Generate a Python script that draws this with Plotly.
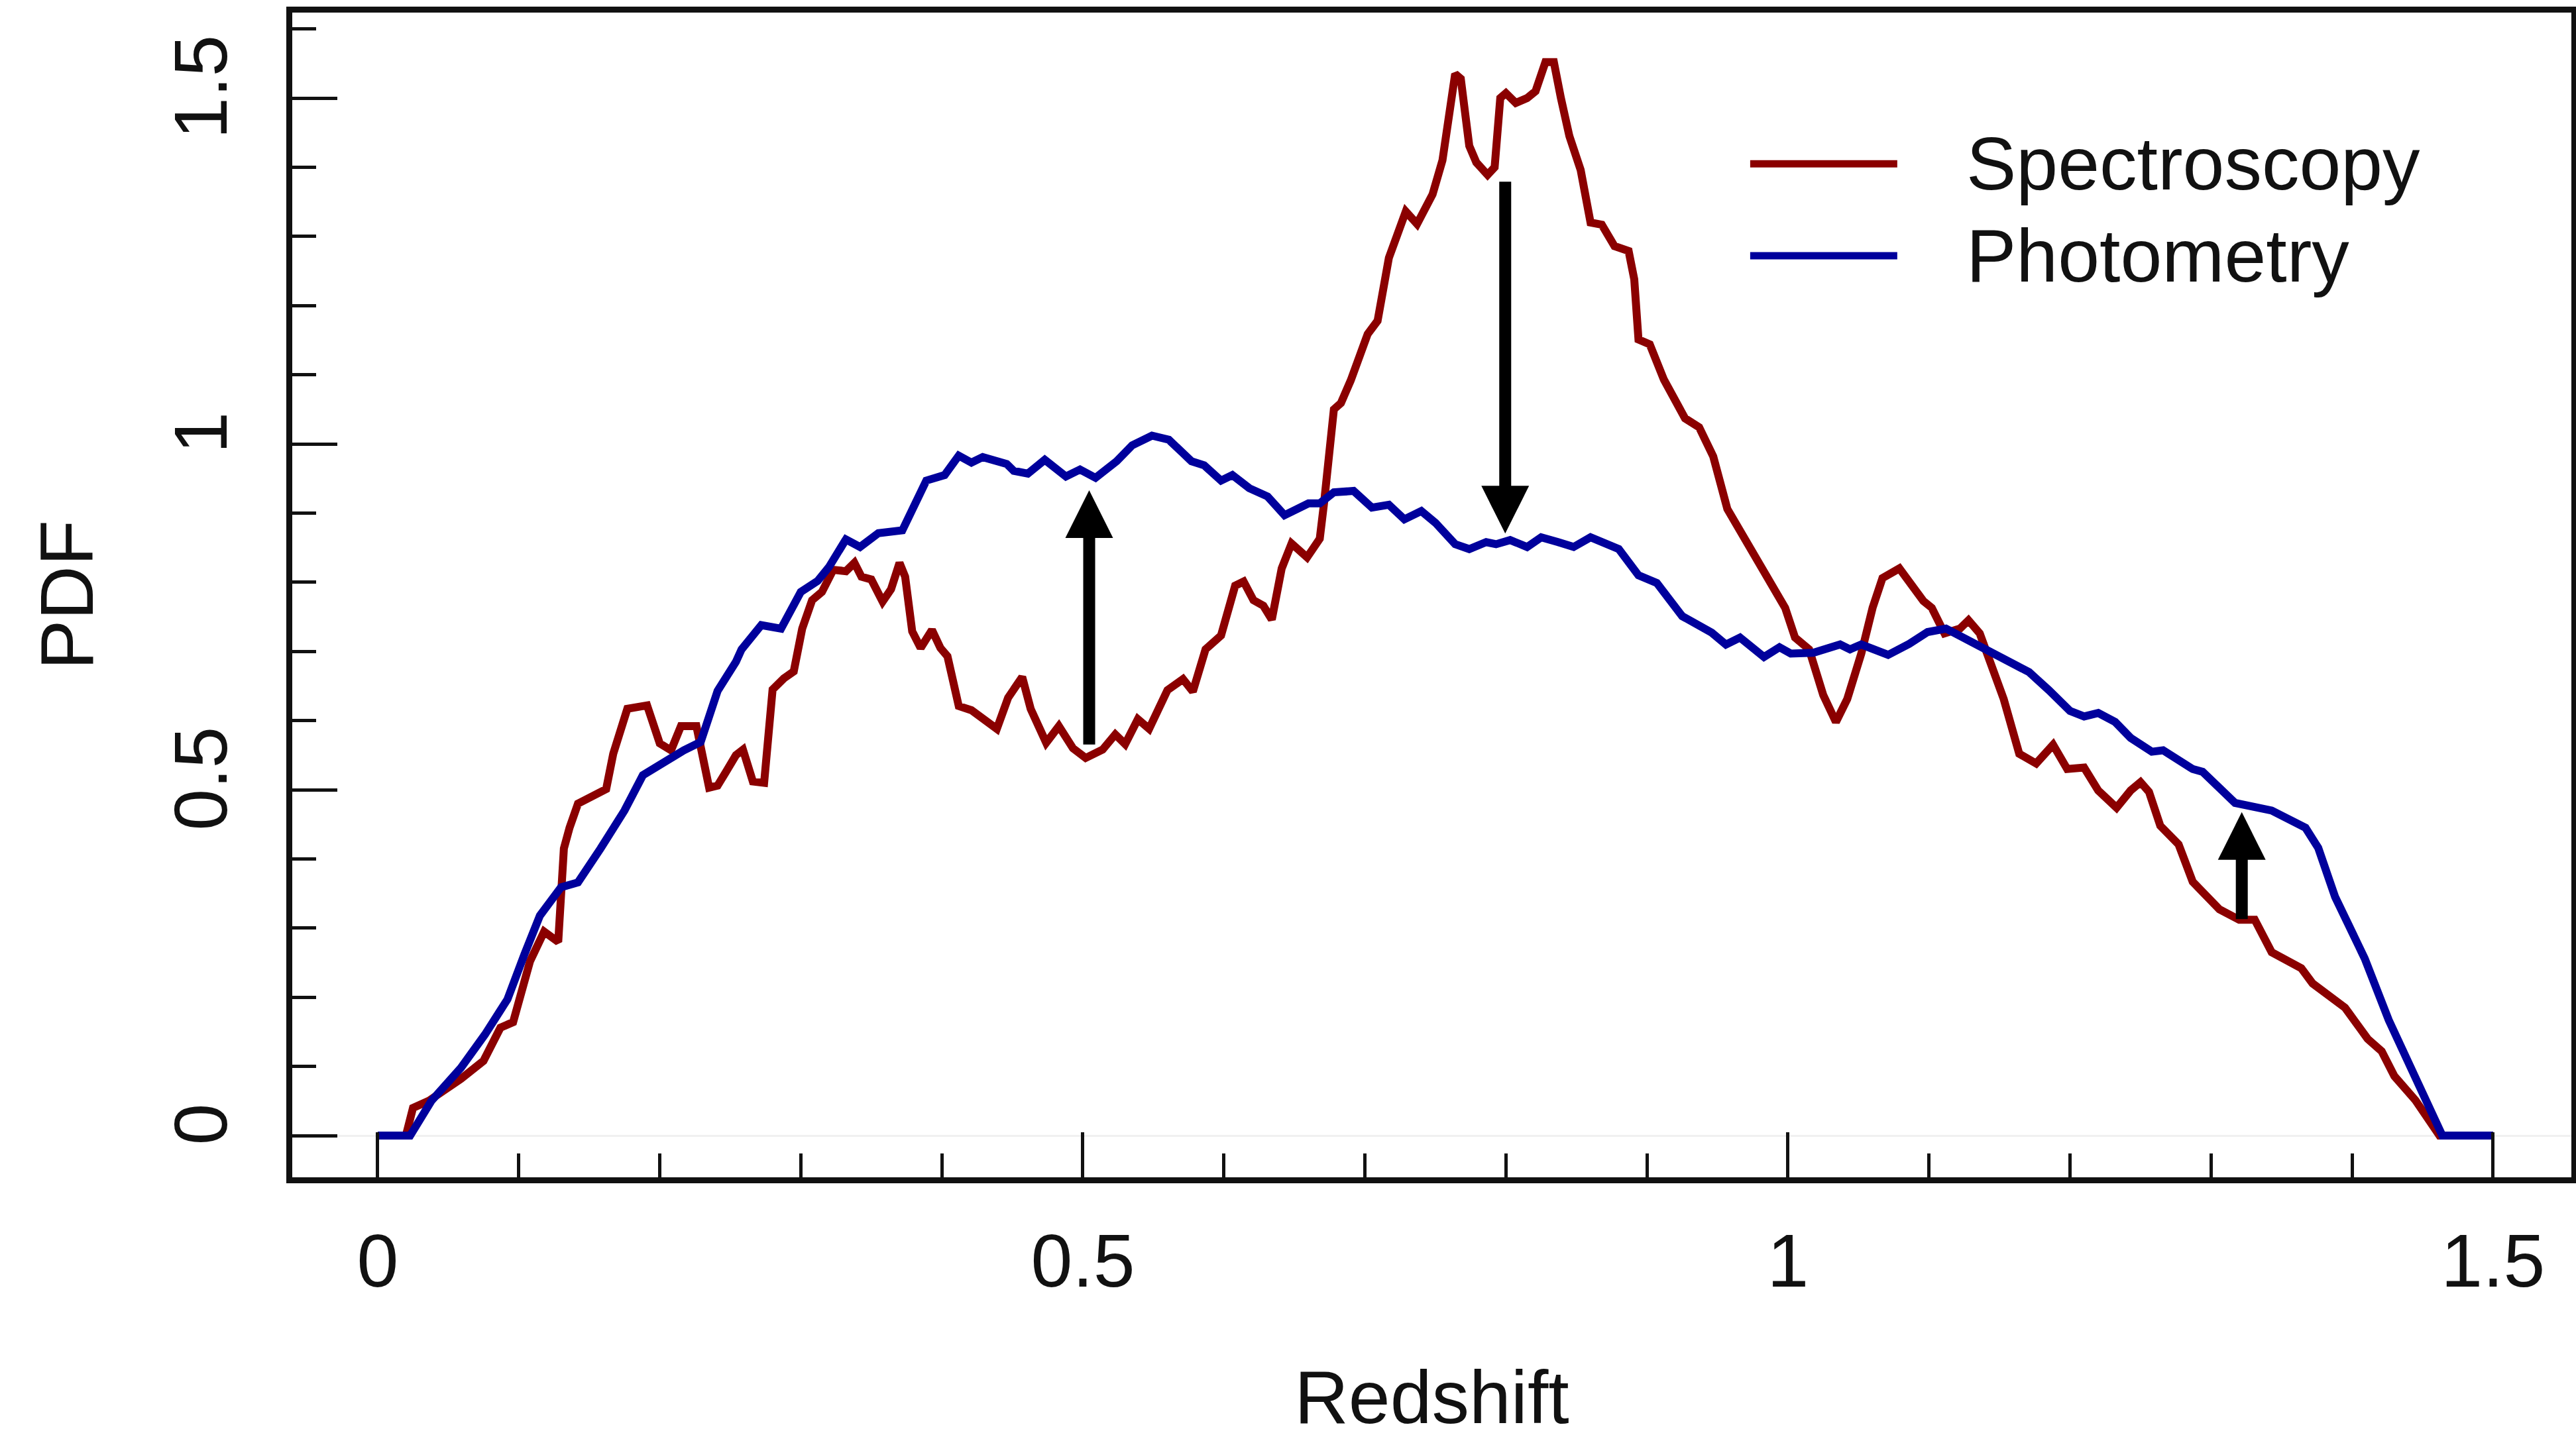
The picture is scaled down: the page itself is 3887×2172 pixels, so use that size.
import plotly.graph_objects as go

# ---------------- data ----------------
z_spec = [0.000, 0.020, 0.025, 0.036, 0.059, 0.075, 0.087, 0.096, 0.108, 0.118,
          0.128, 0.132, 0.136, 0.142, 0.162, 0.167, 0.177, 0.191, 0.200, 0.208,
          0.215, 0.226, 0.235, 0.241, 0.247, 0.254, 0.259, 0.266, 0.274, 0.280,
          0.288, 0.295, 0.301, 0.308, 0.315, 0.323, 0.332, 0.338, 0.343, 0.350,
          0.358, 0.364, 0.370, 0.374, 0.379, 0.385, 0.393, 0.399, 0.404, 0.412,
          0.421, 0.429, 0.439, 0.447, 0.457, 0.463, 0.474, 0.483, 0.493, 0.502,
          0.514, 0.523, 0.530, 0.539, 0.547, 0.560, 0.571, 0.578, 0.587, 0.598,
          0.608, 0.614, 0.621, 0.628, 0.634, 0.641, 0.648, 0.659, 0.668, 0.671,
          0.675, 0.678, 0.683, 0.690, 0.702, 0.709, 0.717, 0.729, 0.737, 0.748,
          0.755, 0.759, 0.764, 0.768, 0.774, 0.779, 0.787, 0.792, 0.796, 0.800,
          0.807, 0.815, 0.821, 0.828, 0.834, 0.839, 0.845, 0.853, 0.860, 0.868,
          0.877, 0.887, 0.891, 0.894, 0.902, 0.912, 0.927, 0.937, 0.947, 0.957,
          0.971, 0.981, 0.994, 0.998, 1.005, 1.015, 1.025, 1.034, 1.042, 1.052,
          1.060, 1.067, 1.079, 1.087, 1.096, 1.102, 1.111, 1.122, 1.128, 1.136,
          1.143, 1.153, 1.164, 1.176, 1.188, 1.198, 1.210, 1.220, 1.233, 1.243,
          1.250, 1.256, 1.264, 1.277, 1.287, 1.306, 1.320, 1.331, 1.343, 1.364,
          1.372, 1.395, 1.411, 1.421, 1.430, 1.445, 1.462, 1.500]
pdf_spec = [0.000, 0.000, 0.040, 0.050, 0.082, 0.108, 0.156, 0.164, 0.252, 0.295,
            0.280, 0.415, 0.445, 0.480, 0.501, 0.552, 0.617, 0.622, 0.567, 0.557,
            0.592, 0.592, 0.503, 0.506, 0.526, 0.550, 0.558, 0.512, 0.510, 0.645,
            0.661, 0.671, 0.733, 0.774, 0.786, 0.818, 0.816, 0.828, 0.808, 0.804,
            0.772, 0.790, 0.828, 0.808, 0.729, 0.705, 0.731, 0.705, 0.693, 0.621,
            0.615, 0.604, 0.588, 0.633, 0.663, 0.617, 0.568, 0.592, 0.560, 0.546,
            0.558, 0.580, 0.566, 0.602, 0.588, 0.644, 0.660, 0.642, 0.703, 0.723,
            0.795, 0.801, 0.774, 0.766, 0.746, 0.820, 0.856, 0.836, 0.863, 0.914,
            0.989, 1.050, 1.059, 1.092, 1.159, 1.178, 1.269, 1.336, 1.318, 1.361,
            1.410, 1.472, 1.535, 1.528, 1.431, 1.407, 1.389, 1.400, 1.500, 1.507,
            1.493, 1.500, 1.510, 1.552, 1.552, 1.500, 1.445, 1.396, 1.320, 1.317,
            1.286, 1.279, 1.238, 1.151, 1.144, 1.093, 1.037, 1.024, 0.982, 0.906,
            0.858, 0.823, 0.775, 0.763, 0.720, 0.703, 0.637, 0.598, 0.631, 0.697,
            0.763, 0.806, 0.820, 0.799, 0.773, 0.763, 0.726, 0.733, 0.745, 0.726,
            0.690, 0.631, 0.552, 0.538, 0.565, 0.530, 0.532, 0.499, 0.474, 0.499,
            0.511, 0.497, 0.448, 0.421, 0.367, 0.327, 0.312, 0.312, 0.265, 0.242,
            0.220, 0.185, 0.140, 0.122, 0.086, 0.051, 0.000, 0.000]

z_phot = [0.000, 0.023, 0.038, 0.059, 0.076, 0.092, 0.104, 0.115, 0.130, 0.142,
          0.158, 0.175, 0.188, 0.203, 0.217, 0.229, 0.241, 0.254, 0.258, 0.272,
          0.286, 0.300, 0.312, 0.320, 0.332, 0.342, 0.355, 0.372, 0.379, 0.389,
          0.402, 0.412, 0.421, 0.429, 0.446, 0.451, 0.461, 0.473, 0.488, 0.498,
          0.509, 0.524, 0.535, 0.549, 0.561, 0.577, 0.586, 0.598, 0.606, 0.618,
          0.631, 0.643, 0.660, 0.668, 0.678, 0.692, 0.705, 0.717, 0.728, 0.740,
          0.750, 0.764, 0.774, 0.786, 0.793, 0.803, 0.815, 0.825, 0.837, 0.848,
          0.860, 0.870, 0.880, 0.894, 0.907, 0.925, 0.946, 0.956, 0.966, 0.983,
          0.994, 1.002, 1.018, 1.037, 1.044, 1.052, 1.071, 1.086, 1.099, 1.112,
          1.124, 1.139, 1.151, 1.171, 1.185, 1.200, 1.210, 1.220, 1.232, 1.243,
          1.258, 1.266, 1.287, 1.294, 1.317, 1.329, 1.343, 1.367, 1.376, 1.388,
          1.409, 1.426, 1.444, 1.464, 1.500]
pdf_phot = [0.000, 0.000, 0.050, 0.098, 0.146, 0.197, 0.262, 0.318, 0.359, 0.366,
            0.415, 0.470, 0.521, 0.541, 0.557, 0.569, 0.643, 0.685, 0.703, 0.738,
            0.733, 0.786, 0.802, 0.822, 0.862, 0.851, 0.871, 0.875, 0.903, 0.947,
            0.955, 0.983, 0.973, 0.981, 0.971, 0.961, 0.957, 0.977, 0.953, 0.963,
            0.951, 0.975, 0.998, 1.012, 1.006, 0.975, 0.969, 0.947, 0.955, 0.936,
            0.924, 0.897, 0.914, 0.914, 0.930, 0.932, 0.908, 0.912, 0.891, 0.903,
            0.886, 0.855, 0.848, 0.858, 0.855, 0.861, 0.851, 0.865, 0.858, 0.851,
            0.865, 0.855, 0.848, 0.810, 0.799, 0.751, 0.727, 0.710, 0.720, 0.692,
            0.706, 0.697, 0.698, 0.710, 0.703, 0.710, 0.695, 0.711, 0.728, 0.733,
            0.720, 0.705, 0.694, 0.670, 0.644, 0.614, 0.606, 0.611, 0.598, 0.575,
            0.555, 0.557, 0.530, 0.526, 0.481, 0.477, 0.470, 0.445, 0.416, 0.345,
            0.256, 0.167, 0.091, 0.000, 0.000]

series_names = ["Spectroscopy", "Photometry"]
series_colors = ["#8b0000", "#00009c"]

# arrows: x position, tail value, head value
arrow_x = [0.5045, 0.7995, 1.3218]
arrow_from = [0.564, 1.3805, 0.3116]
arrow_to = [0.933, 0.8704, 0.4676]

x_tickvals = [0, 0.5, 1, 1.5]
x_ticktext = ["0", "0.5", "1", "1.5"]
y_tickvals = [0, 0.5, 1, 1.5]
y_ticktext = ["0", "0.5", "1", "1.5"]

# ---------------- figure ----------------
FONT = "Liberation Sans, Arial, Helvetica, sans-serif"
FS = 113
TXT = "#111111"

fig = go.Figure()
for zs, ps, name, col in [(z_spec, pdf_spec, series_names[0], series_colors[0]),
                          (z_phot, pdf_phot, series_names[1], series_colors[1])]:
    fig.add_trace(go.Scatter(x=zs, y=ps, mode="lines", name=name,
                             line=dict(color=col, width=12), showlegend=False))

# arrows
for ax_, a0, a1 in zip(arrow_x, arrow_from, arrow_to):
    fig.add_annotation(x=ax_, y=a1, ax=ax_, ay=a0, xref="x", yref="y",
                       axref="x", ayref="y", text="", showarrow=True,
                       arrowhead=2, arrowsize=0.8, arrowwidth=18,
                       arrowcolor="black", standoff=0)

# manual legend (long line samples)
leg_x0, leg_x1, leg_tx = 0.9732, 1.0775, 1.1255
leg_y = [1.405, 1.272]
for name, col, ly in zip(series_names, series_colors, leg_y):
    fig.add_shape(type="line", xref="x", yref="y", x0=leg_x0, x1=leg_x1,
                  y0=ly, y1=ly, line=dict(color=col, width=11))
    fig.add_annotation(x=leg_tx, y=ly, xref="x", yref="y", text=name,
                       showarrow=False, xanchor="left", yanchor="middle",
                       font=dict(family=FONT, size=FS, color=TXT))

axis_common = dict(
    showline=True, linewidth=9, linecolor="#111111", mirror=True,
    ticks="inside", ticklen=68, tickwidth=5, tickcolor="#111111",
    showgrid=False, automargin=False,
    tickfont=dict(family=FONT, size=FS, color=TXT),
    title_font=dict(family=FONT, size=FS, color=TXT),
)

fig.update_xaxes(
    range=[-0.0606, 1.5555], tickmode="array", tickvals=x_tickvals,
    ticktext=x_ticktext, zeroline=False,
    minor=dict(dtick=0.1, tick0=0, ticks="inside", ticklen=36, tickwidth=5,
               tickcolor="#111111"),
    title_text="Redshift", title_standoff=130, ticklabelstandoff=20,
    **axis_common)
fig.update_yaxes(
    range=[-0.0603, 1.6236], tickmode="array", tickvals=y_tickvals,
    ticktext=y_ticktext, tickangle=-90, zeroline=True,
    zerolinecolor="#f0f0f0", zerolinewidth=3,
    minor=dict(dtick=0.1, tick0=0, ticks="inside", ticklen=36, tickwidth=5,
               tickcolor="#111111"),
    title_text="PDF", title_standoff=65, ticklabelstandoff=45,
    **axis_common)

fig.update_layout(
    template="none", width=3887, height=2172,
    margin=dict(l=441, r=7, t=19, b=395, pad=0),
    paper_bgcolor="white", plot_bgcolor="white",
    font=dict(family=FONT, size=FS, color=TXT),
)

fig.write_html("out.html")
